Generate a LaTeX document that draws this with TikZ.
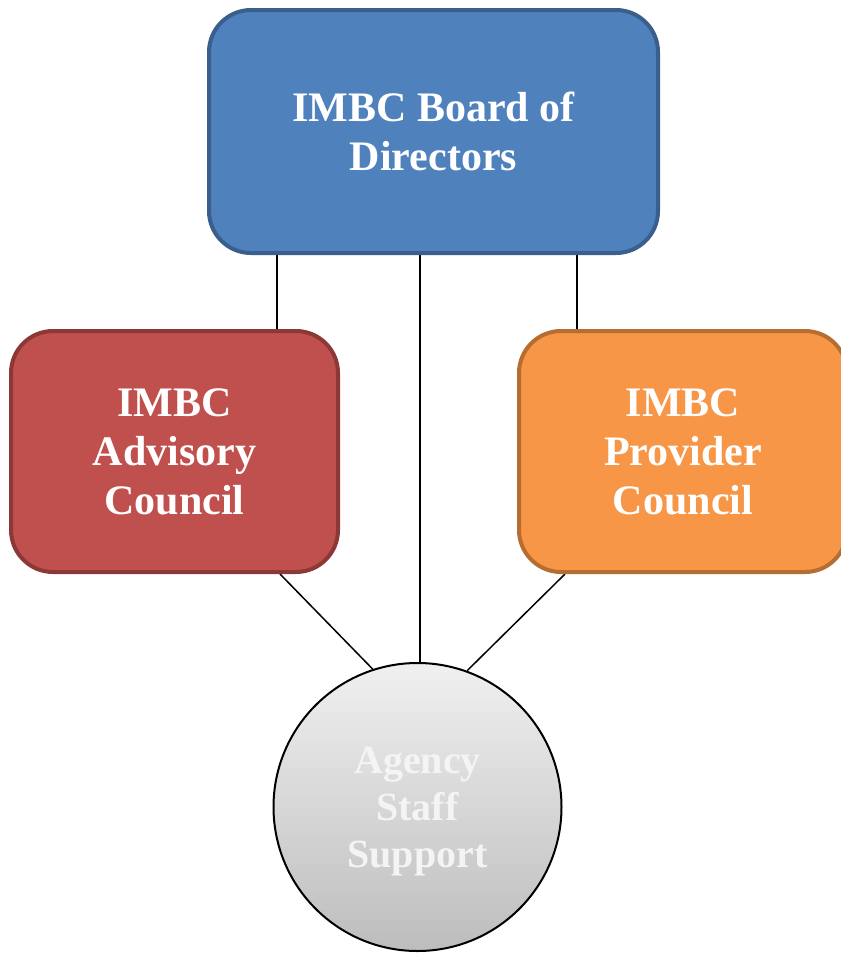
\documentclass[tikz,border=0pt]{standalone}
\usepackage{fontspec}
\setmainfont{Liberation Serif}
\definecolor{blueF}{HTML}{4F81BD}
\definecolor{blueD}{HTML}{3A5F8C}
\definecolor{redF}{HTML}{C0504D}
\definecolor{redD}{HTML}{8C3836}
\definecolor{orgF}{HTML}{F79646}
\definecolor{orgD}{HTML}{B66D31}
\definecolor{supTop}{HTML}{F0F0F0}
\definecolor{supBot}{HTML}{BDBDBD}
\definecolor{supText}{HTML}{F4F4F4}
\pgfdeclarelayer{bg}
\pgfsetlayers{bg,main}
\begin{document}
\begin{tikzpicture}[x=1pt,y=-1pt,
  box/.style={rectangle, rounded corners=42pt, line width=4pt, align=center,
    text=white, inner sep=0pt, font=\fontsize{42}{49}\selectfont\bfseries},
  suplabel/.style={align=center, text=supText, inner sep=0pt, yshift=-5pt,
    font=\fontsize{40}{47}\selectfont\bfseries},
  conn/.style={line width=1.5pt, draw=black}]
\clip (0,0) rectangle (841,954);
\node[box, fill=blueF, draw=blueD, minimum width=449pt, minimum height=243pt] (top) at (433.5,131.5) {IMBC Board of\\Directors};
\node[box, fill=redF, draw=redD, minimum width=327pt, minimum height=241pt] (adv) at (174.5,451.5) {IMBC\\Advisory\\Council};
\node[box, fill=orgF, draw=orgD, minimum width=328pt, minimum height=241pt] (prov) at (683,451.5) {IMBC\\Provider\\Council};
\node[circle, draw=black, line width=2pt, top color=supTop, bottom color=supBot,
  minimum size=288pt, inner sep=0pt,
  label={[suplabel]center:{Agency\\Staff\\Support}}] (sup) at (417.5,807) {};
\begin{pgfonlayer}{bg}
\draw[conn] (top.south -| 277,0) -- (adv.north -| 277,0);
\draw[conn] (top.south -| 577,0) -- (prov.north -| 577,0);
\draw[conn] (top.south -| 420,0) -- (sup.north -| 420,0);
\draw[conn] (adv.south -| 280,0) -- (sup.108);
\draw[conn] (prov.south -| 565,0) -- (sup.70);
\end{pgfonlayer}
\end{tikzpicture}
\end{document}
